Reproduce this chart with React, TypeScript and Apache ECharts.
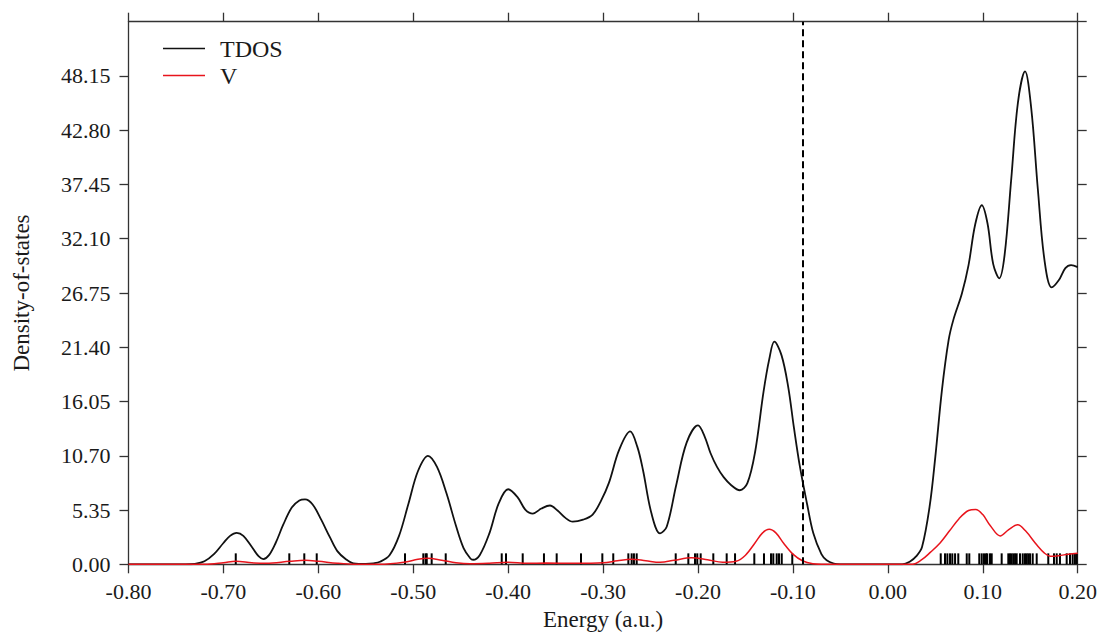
import React, { useEffect, useRef } from "react";
import * as echarts from "echarts";

// Energy (a.u.) / density-of-states pairs for the total DOS
const tdosE = [
  -0.8, -0.74, -0.73, -0.72, -0.71, -0.7, -0.693, -0.686, -0.679, -0.67, -0.663, -0.658, -0.652, -0.645,
  -0.637, -0.628, -0.62, -0.614, -0.606, -0.597, -0.588, -0.58, -0.571, -0.563, -0.55, -0.542,
  -0.535, -0.525, -0.515, -0.505, -0.495, -0.4845, -0.475, -0.465, -0.455, -0.447, -0.44, -0.437,
  -0.43, -0.42, -0.41, -0.4, -0.39, -0.382, -0.374, -0.365, -0.356, -0.348, -0.34, -0.332,
  -0.321, -0.311, -0.302, -0.294, -0.283, -0.2715, -0.264, -0.258, -0.249, -0.24, -0.233,
  -0.223, -0.212, -0.2, -0.193, -0.187, -0.18, -0.173, -0.165, -0.156, -0.148, -0.14, -0.131,
  -0.125, -0.1196, -0.112, -0.105, -0.099, -0.0926, -0.085, -0.0785, -0.07, -0.0645, -0.057,
  -0.05, 0.015, 0.023, 0.03, 0.036, 0.044, 0.05, 0.057, 0.064, 0.069, 0.078, 0.085, 0.092,
  0.099, 0.105, 0.111, 0.1174, 0.123, 0.13, 0.137, 0.1445, 0.151, 0.158, 0.165, 0.1726, 0.18,
  0.187, 0.193, 0.2,
];
const tdosV = [
  0, 0, 0.05, 0.3, 1.0, 2.1, 2.8, 3.1, 2.8, 1.7, 0.8, 0.52, 0.9, 2.1,
  3.9, 5.6, 6.3, 6.4, 5.9, 4.4, 2.7, 1.3, 0.5, 0.1, 0.05, 0.1,
  0.25, 0.9, 2.8, 6.0, 9.2, 10.7, 9.6, 7.0, 3.8, 1.6, 0.6, 0.45,
  0.9, 3.0, 6.0, 7.4, 6.6, 5.4, 5.0, 5.5, 5.8, 5.3, 4.6, 4.2,
  4.4, 4.9, 6.3, 8.0, 11.3, 13.1, 11.6, 9.3, 5.0, 3.05, 3.7,
  7.8, 12.0, 13.7, 12.6, 11.0, 9.6, 8.6, 7.8, 7.3, 8.0, 11.0, 17.0,
  20.2, 21.95, 20.6, 17.5, 13.5, 9.6, 5.9, 3.05, 1.0, 0.4, 0.08,
  0, 0, 0.25, 0.8, 1.7, 5.7, 10.6, 17.2, 22.1, 24.1, 26.7, 29.5, 33.5,
  35.4, 33.6, 29.6, 28.2, 30.5, 38.0, 45.5, 48.6, 45.0, 37.0, 30.0, 27.3, 28.0,
  29.2, 29.5, 29.3,
];

// Projected DOS of V
const vE = [
  -0.8, -0.72, -0.7, -0.687, -0.67, -0.655, -0.63, -0.614, -0.6, -0.58, -0.56, -0.535,
  -0.51, -0.495, -0.485, -0.47, -0.455, -0.44, -0.42, -0.4, -0.38, -0.36, -0.33, -0.3,
  -0.285, -0.27, -0.255, -0.24, -0.225, -0.207, -0.19, -0.174, -0.16, -0.15, -0.14, -0.132,
  -0.125, -0.118, -0.11, -0.1, -0.09, -0.079, -0.07, 0.026, 0.035, 0.045, 0.055, 0.065,
  0.075, 0.085, 0.0925, 0.1, 0.108, 0.1183, 0.127, 0.1368, 0.145, 0.157, 0.165, 0.171,
  0.18, 0.19, 0.2,
];
const vV = [
  0, 0, 0.15, 0.3, 0.15, 0.1, 0.3, 0.4, 0.3, 0.1, 0, 0,
  0.2, 0.5, 0.6, 0.4, 0.15, 0.05, 0.1, 0.2, 0.1, 0.12, 0.1, 0.15,
  0.35, 0.5, 0.35, 0.2, 0.4, 0.65, 0.45, 0.2, 0.3, 0.9, 2.1, 3.1,
  3.45, 3.1, 2.1, 1.0, 0.35, 0.05, 0, 0, 0.4, 1.2, 2.1, 3.3,
  4.5, 5.3, 5.4, 4.9, 3.8, 2.8, 3.4, 3.9, 3.3, 1.9, 1.1, 0.8,
  0.85, 1.0, 1.1,
];

// Eigenvalue positions drawn as sticks along the energy axis
const levels = [
  -0.687, -0.6306, -0.6148, -0.6017,
  -0.5087, -0.4894, -0.4869, -0.4858, -0.4806, -0.4658,
  -0.4068, -0.4023, -0.3847, -0.3623, -0.3489, -0.3233, -0.3008, -0.2893,
  -0.2734, -0.2699, -0.2675, -0.2646,
  -0.2235, -0.2102, -0.2032, -0.2008, -0.1972,
  -0.1839, -0.1698, -0.161,
  -0.1407, -0.1305, -0.1231, -0.1207, -0.1171, -0.1147, -0.1118, -0.1007,
  0.0557, 0.0602, 0.0627, 0.0655, 0.0679, 0.0708, 0.0742, 0.0831, 0.0858,
  0.0963, 0.0989, 0.1013, 0.1034, 0.1047, 0.1076, 0.1094, 0.1199,
  0.1269, 0.1287, 0.1304, 0.1322, 0.134, 0.1357, 0.1392, 0.1421, 0.1445,
  0.1463, 0.148, 0.1498, 0.1526, 0.1568, 0.169, 0.175, 0.1779, 0.1813,
  0.1884, 0.1919, 0.1947, 0.1971, 0.1989,
];
const levelHeight = 1.08;

// Fermi level
const fermiEnergy = -0.0926;

const energyTicks = { min: -0.8, max: 0.2, interval: 0.1 };
const dosTicks = { min: 0, max: 53.5, interval: 5.35 };

const FONT = "'Liberation Serif', 'Times New Roman', serif";
const INK = "#1a1a1a";
const AXIS = "#333";
const TDOS_COLOR = "#111";
const V_COLOR = "#e8141c";

const fmt = (v: number) => (Math.abs(v) < 1e-9 ? "0.00" : v.toFixed(2));

export default function App() {
  const ref = useRef<HTMLDivElement>(null);

  useEffect(() => {
    document.body.style.margin = "0";
    if (!ref.current) return;
    const chart = echarts.init(ref.current, null, { renderer: "svg" });

    const tdos = tdosE.map((e, i) => [e, tdosV[i]]);
    const pdos = vE.map((e, i) => [e, vV[i]]);
    const sticks = levels.map((e) => [e, levelHeight]);

    const axisLine = { show: true, onZero: false, lineStyle: { color: AXIS, width: 1.3 } };
    const axisTick = { show: true, inside: false, length: 9, lineStyle: { color: AXIS, width: 1.3 } };

    chart.setOption({
      animation: false,
      backgroundColor: "#fff",
      grid: {
        left: 128.5,
        right: 35.3,
        top: 21.7,
        bottom: 74.7,
        containLabel: false,
        outerBoundsMode: "none",
      },
      legend: {
        orient: "vertical",
        left: 158,
        top: 31,
        itemWidth: 42,
        itemHeight: 1.6,
        itemGap: 2,
        icon: "rect",
        data: [
          { name: "TDOS", itemStyle: { color: TDOS_COLOR } },
          { name: "V", itemStyle: { color: V_COLOR } },
        ],
        textStyle: {
          fontFamily: FONT,
          fontSize: 24,
          lineHeight: 25,
          color: INK,
          padding: [0, 0, 0, 10],
        },
      },
      xAxis: [
        {
          type: "value",
          position: "bottom",
          ...energyTicks,
          name: "Energy (a.u.)",
          nameLocation: "middle",
          nameGap: 44,
          nameTextStyle: { fontFamily: FONT, fontSize: 23, color: INK },
          axisLine,
          axisTick,
          splitLine: { show: false },
          axisLabel: {
            fontFamily: FONT,
            fontSize: 22,
            color: INK,
            margin: 16,
            formatter: fmt,
          },
        },
        {
          type: "value",
          position: "top",
          ...energyTicks,
          axisLine,
          axisTick,
          splitLine: { show: false },
          axisLabel: { show: false },
        },
      ],
      yAxis: [
        {
          type: "value",
          position: "left",
          ...dosTicks,
          name: "Density-of-states",
          nameLocation: "middle",
          nameGap: 96,
          nameTextStyle: { fontFamily: FONT, fontSize: 23, color: INK },
          axisLine,
          axisTick,
          splitLine: { show: false },
          axisLabel: {
            fontFamily: FONT,
            fontSize: 22,
            color: INK,
            margin: 18,
            showMaxLabel: false,
            formatter: fmt,
          },
        },
        {
          type: "value",
          position: "right",
          ...dosTicks,
          axisLine,
          axisTick,
          splitLine: { show: false },
          axisLabel: { show: false },
        },
      ],
      series: [
        {
          name: "levels",
          type: "custom",
          data: sticks,
          silent: true,
          renderItem: (params: any, api: any) => {
            const x = api.value(0);
            const p0 = api.coord([x, 0]);
            const p1 = api.coord([x, api.value(1)]);
            return {
              type: "line",
              shape: { x1: p0[0], y1: p0[1], x2: p1[0], y2: p1[1] },
              style: { stroke: "#000", lineWidth: 2 },
            };
          },
        },
        {
          name: "TDOS",
          type: "line",
          data: tdos,
          smooth: 0.35,
          symbol: "none",
          lineStyle: { color: TDOS_COLOR, width: 1.8 },
          itemStyle: { color: TDOS_COLOR },
          markLine: {
            silent: true,
            symbol: ["none", "none"],
            label: { show: false },
            lineStyle: { color: "#000", width: 2, type: [7, 4] },
            data: [{ xAxis: fermiEnergy }],
          },
        },
        {
          name: "V",
          type: "line",
          data: pdos,
          smooth: 0.35,
          symbol: "none",
          lineStyle: { color: V_COLOR, width: 1.5 },
          itemStyle: { color: V_COLOR },
        },
      ],
    });

    return () => chart.dispose();
  }, []);

  return <div ref={ref} style={{ width: 1113, height: 639 }} />;
}
